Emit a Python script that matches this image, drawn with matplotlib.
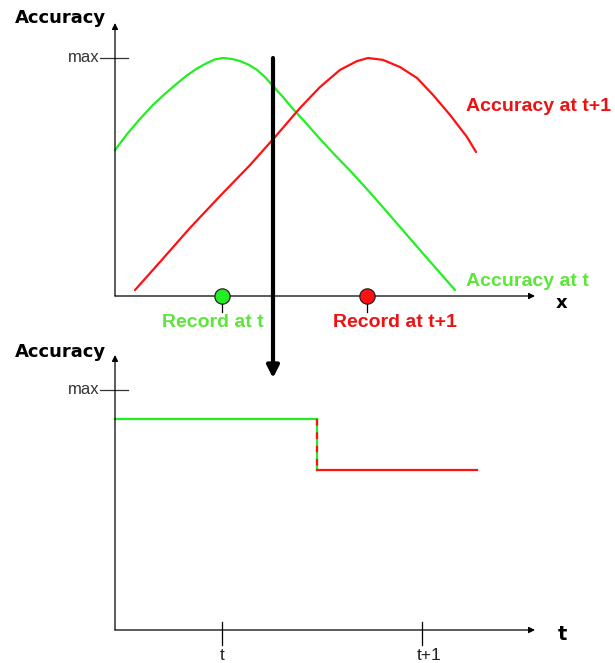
import numpy as np
import matplotlib
matplotlib.use("Agg")
import matplotlib.pyplot as plt

# top panel: accuracy over feature x (x measured from the y axis, accuracy 1 = max)
green_x = [0, 12, 25, 38, 52, 62, 72, 82, 92, 100, 108, 117, 125, 134, 142, 150, 158,
           168, 178, 190, 205, 220, 235, 250, 265, 285, 305, 325, 340]
green_acc = [0.613, 0.680, 0.744, 0.803, 0.857, 0.893, 0.927, 0.956, 0.979, 0.994,
             1.0, 0.996, 0.987, 0.971, 0.950, 0.920, 0.882, 0.836, 0.786, 0.731,
             0.660, 0.592, 0.527, 0.458, 0.387, 0.290, 0.193, 0.097, 0.025]
red_x = [20, 45, 75, 105, 135, 160, 185, 205, 225, 242, 253, 268, 285, 302, 318,
         335, 352, 361]
red_acc = [0.025, 0.143, 0.286, 0.420, 0.550, 0.668, 0.790, 0.878, 0.950, 0.987,
           1.0, 0.992, 0.962, 0.916, 0.845, 0.761, 0.668, 0.605]
record_x = [107, 252]
record_labels = ["Record at t", "Record at t+1"]

# bottom panel: accuracy over time (step from t to t+1)
step_t = [0.465, 1.475, 1.475, 2.275]
step_acc = [0.879, 0.879, 0.667, 0.667]
time_ticks = [1, 2]
time_labels = ["t", "t+1"]

GREEN = "#22ee22"
GREEN_TXT = "#5ce63a"
RED = "#ff1111"
RED_TXT = "#ee1111"
W, H = 615, 663

fig = plt.figure(figsize=(W / 100, H / 100), dpi=100)

# ---------- top panel ----------
ax1 = fig.add_axes([0, 1 - 330 / H, 1, 330 / H])
ax1.set_xlim(-115, 500)
ax1.set_ylim((296 - 330) / 238, 296 / 238)
ax1.axis("off")

arr = dict(arrowstyle="-|>", color="black", lw=0.9, mutation_scale=9, shrinkA=0, shrinkB=0)
ax1.annotate("", xy=(420, 0), xytext=(0, 0), arrowprops=arr, annotation_clip=False)
ax1.annotate("", xy=(0, 1.147), xytext=(0, 0), arrowprops=arr, annotation_clip=False)
ax1.plot([-15, 13], [1, 1], color="#333333", lw=0.9)
ax1.text(-15, 1.0, "max", ha="right", va="center", fontsize=12,
         family="Liberation Sans", color="#333333")
ax1.text(-55, 1.168, "Accuracy", ha="center", va="center", fontsize=13,
         fontweight="bold", family="DejaVu Sans")
ax1.text(447, -0.03, "x", ha="center", va="center", fontsize=13,
         fontweight="bold", family="DejaVu Sans")

ax1.plot(green_x, green_acc, color=GREEN, lw=1.6, solid_capstyle="round",
         solid_joinstyle="round")
ax1.plot(red_x, red_acc, color=RED, lw=1.6, solid_capstyle="round",
         solid_joinstyle="round")

for xv, col in zip(record_x, [GREEN, RED]):
    ax1.plot([xv, xv], [0, -0.067], color="black", lw=0.9)
    ax1.plot(xv, 0, "o", ms=11, mfc=col, mec="#222222", mew=0.9, zorder=5)

ax1.text(351, 0.798, "Accuracy at t+1", ha="left", va="center", fontsize=14,
         fontweight="bold", family="Liberation Sans", color=RED_TXT)
ax1.text(351, 0.059, "Accuracy at t", ha="left", va="center", fontsize=14,
         fontweight="bold", family="Liberation Sans", color=GREEN_TXT)
ax1.text(98, -0.113, record_labels[0], ha="center", va="center", fontsize=14,
         fontweight="bold", family="Liberation Sans", color=GREEN_TXT)
ax1.text(280, -0.113, record_labels[1], ha="center", va="center", fontsize=14,
         fontweight="bold", family="Liberation Sans", color=RED_TXT)

# big arrow from the top panel to the bottom one
ax1.annotate("", xy=(158, -0.345), xytext=(158, 1.0), annotation_clip=False,
             arrowprops=dict(arrowstyle="-|>", color="black", lw=3,
                             mutation_scale=18, shrinkA=0, shrinkB=0), zorder=6)

# ---------- bottom panel ----------
ax2 = fig.add_axes([0, 0, 1, 328 / H])
ax2.set_xlim(1 + (0 - 222) / 200, 1 + (615 - 222) / 200)
ax2.set_ylim((630 - 663) / 240, (630 - 335) / 240)
ax2.axis("off")

ax2.annotate("", xy=(2.565, 0), xytext=(0.465, 0), arrowprops=arr, annotation_clip=False)
ax2.annotate("", xy=(0.465, 1.146), xytext=(0.465, 0), arrowprops=arr, annotation_clip=False)
ax2.plot([0.39, 0.53], [1, 1], color="#333333", lw=0.9)
ax2.text(0.39, 1.0, "max", ha="right", va="center", fontsize=12,
         family="Liberation Sans", color="#333333")
ax2.text(0.19, 1.158, "Accuracy", ha="center", va="center", fontsize=13,
         fontweight="bold", family="DejaVu Sans")
ax2.text(2.7, -0.02, "t", ha="center", va="center", fontsize=14,
         fontweight="bold", family="DejaVu Sans")

for tv, lab in zip(time_ticks, time_labels):
    ax2.plot([tv, tv], [0.033, -0.0625], color="black", lw=0.9)
    ax2.text(tv + (0.035 if lab == "t+1" else 0.0), -0.108, lab, ha="center",
             va="center", fontsize=12.5, family="Liberation Sans", color="#222222")

ax2.plot(step_t[:2], step_acc[:2], color=GREEN, lw=1.6)
ax2.plot(step_t[1:3], step_acc[1:3], color=GREEN, lw=1.6)
ax2.plot(step_t[1:3], step_acc[1:3], color=RED, lw=1.6, dashes=(3, 3))
ax2.plot(step_t[2:], step_acc[2:], color=RED, lw=1.6)

fig.savefig("out.png", dpi=100)
